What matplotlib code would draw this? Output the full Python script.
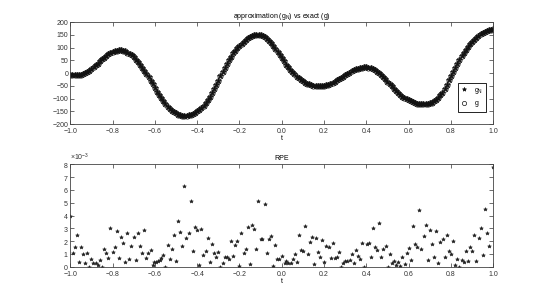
import matplotlib
matplotlib.use('Agg')
import matplotlib.pyplot as plt
import numpy as np
from matplotlib.ticker import ScalarFormatter, MultipleLocator

# exact / approximated function, sampled every 0.01 on [-1, 1]
t_g = np.linspace(-1, 1, 201)
g = [-7, -8, -9, -9, -8, -6, -4, 0, 4, 10,
     17, 24, 31, 38, 46, 54, 61, 68, 74, 79,
     83, 87, 89, 90, 90, 88, 86, 81, 76, 70,
     62, 53, 44, 33, 22, 10, -3, -16, -30, -44,
     -58, -72, -86, -98, -110, -121, -131, -140, -147, -153,
     -158, -162, -164, -166, -166, -166, -164, -162, -159, -155,
     -149, -143, -135, -127, -117, -106, -93, -79, -63, -46,
     -29, -12, 5, 21, 37, 52, 65, 78, 89, 99,
     108, 116, 124, 131, 137, 141, 145, 148, 149, 149,
     148, 145, 141, 135, 127, 118, 107, 96, 83, 71,
     58, 46, 34, 23, 13, 4, -5, -13, -20, -26,
     -32, -37, -41, -44, -47, -49, -50, -51, -51, -50,
     -49, -47, -45, -41, -37, -33, -28, -23, -18, -13,
     -8, -3, 2, 7, 11, 15, 18, 20, 22, 23,
     23, 22, 20, 16, 12, 6, 0, -7, -15, -24,
     -33, -43, -52, -61, -70, -78, -86, -92, -98, -102,
     -106, -110, -114, -117, -119, -121, -122, -122, -122, -120,
     -118, -115, -110, -104, -96, -87, -76, -62, -46, -28,
     -10, 6, 22, 37, 52, 66, 80, 92, 104, 114,
     124, 132, 140, 147, 153, 158, 163, 166, 169, 171,
     172]
g_N = g  # approximation lies on top of the exact values

# relative pointwise error (x 1e-3)
t_rpe = [-1.000, -0.989, -0.980, -0.968, -0.959, -0.950, -0.940, -0.929, -0.920, -0.910,
         -0.900, -0.891, -0.880, -0.871, -0.860, -0.850, -0.840, -0.831, -0.820, -0.811,
         -0.800, -0.790, -0.780, -0.771, -0.762, -0.751, -0.740, -0.730, -0.721, -0.712,
         -0.700, -0.691, -0.682, -0.670, -0.661, -0.650, -0.641, -0.631, -0.620, -0.611,
         -0.603, -0.595, -0.586, -0.578, -0.570, -0.560, -0.550, -0.540, -0.530, -0.521,
         -0.510, -0.500, -0.489, -0.480, -0.470, -0.461, -0.452, -0.439, -0.429, -0.420,
         -0.409, -0.400, -0.390, -0.380, -0.371, -0.360, -0.350, -0.340, -0.330, -0.321,
         -0.310, -0.300, -0.291, -0.280, -0.270, -0.261, -0.250, -0.240, -0.231, -0.221,
         -0.210, -0.200, -0.191, -0.180, -0.171, -0.162, -0.152, -0.141, -0.132, -0.122,
         -0.111, -0.100, -0.092, -0.081, -0.072, -0.062, -0.051, -0.041, -0.030, -0.021,
         -0.012, 0.003, 0.013, 0.022, 0.031, 0.043, 0.052, 0.061, 0.072, 0.082,
         0.091, 0.102, 0.112, 0.123, 0.132, 0.142, 0.153, 0.162, 0.172, 0.181,
         0.192, 0.202, 0.211, 0.222, 0.231, 0.241, 0.250, 0.261, 0.271, 0.280,
         0.291, 0.301, 0.310, 0.321, 0.331, 0.340, 0.350, 0.361, 0.370, 0.381,
         0.391, 0.402, 0.411, 0.422, 0.431, 0.441, 0.450, 0.461, 0.471, 0.480,
         0.491, 0.501, 0.510, 0.521, 0.531, 0.540, 0.551, 0.561, 0.570, 0.581,
         0.591, 0.600, 0.611, 0.620, 0.630, 0.641, 0.650, 0.660, 0.671, 0.680,
         0.690, 0.701, 0.710, 0.720, 0.731, 0.740, 0.750, 0.761, 0.770, 0.780,
         0.791, 0.800, 0.809, 0.820, 0.830, 0.839, 0.850, 0.860, 0.869, 0.880,
         0.890, 0.899, 0.910, 0.920, 0.931, 0.940, 0.950, 0.961, 0.970, 0.980,
         1.000]
rpe_milli = [3.96, 1.09, 1.56, 2.47, 0.39, 1.56, 1.02, 0.31, 1.09, 0.00,
             0.57, 0.31, 0.31, 0.10, 0.52, 0.00, 1.35, 1.09, 0.70, 3.05,
             1.17, 1.56, 2.81, 0.65, 2.29, 1.82, 0.36, 2.60, 0.57, 1.61,
             2.34, 0.52, 2.60, 1.64, 1.09, 2.86, 0.70, 1.04, 1.30, 0.10,
             0.36, 0.36, 0.42, 0.49, 0.65, 0.94, 0.00, 1.69, 0.60, 1.38,
             2.47, 0.42, 3.59, 2.68, 1.61, 6.28, 2.21, 2.60, 5.10, 1.20,
             3.13, 2.89, 0.10, 2.94, 0.94, 1.25, 2.21, 0.34, 1.74, 1.09,
             0.73, 1.17, 0.00, 0.31, 0.73, 0.73, 0.62, 2.03, 0.83, 1.72,
             2.00, 0.05, 2.66, 1.07, 1.41, 3.07, 0.21, 3.28, 2.92, 1.41,
             5.10, 2.16, 2.14, 4.92, 1.07, 2.19, 2.37, 0.03, 1.72, 0.60,
             0.57, 0.83, 0.26, 0.42, 0.26, 0.31, 0.62, 0.99, 0.34, 2.47,
             1.30, 1.20, 3.18, 0.99, 1.90, 2.34, 0.23, 2.24, 1.12, 0.76,
             2.08, 0.36, 1.61, 1.51, 0.68, 1.82, 0.70, 0.73, 1.12, 0.00,
             0.26, 0.42, 0.47, 0.52, 0.99, 0.26, 1.30, 0.83, 0.57, 1.82,
             0.00, 1.77, 1.88, 0.73, 3.02, 1.51, 1.30, 3.41, 0.78, 1.41,
             1.61, 0.00, 0.99, 0.26, 0.42, 0.16, 0.36, 0.05, 0.73, 0.21,
             1.09, 1.46, 0.52, 3.18, 1.74, 1.51, 4.40, 1.41, 2.37, 3.28,
             0.52, 2.86, 1.74, 0.76, 2.81, 0.26, 1.93, 2.19, 0.73, 2.50,
             1.20, 1.02, 2.00, 0.16, 0.62, 0.00, 0.49, 0.36, 1.20, 0.47,
             1.51, 1.22, 2.47, 0.44, 2.21, 3.00, 0.89, 4.53, 2.66, 1.64,
             7.80]

plt.rcParams['font.family'] = ['Liberation Sans', 'DejaVu Sans']
plt.rcParams['font.size'] = 5
plt.rcParams['mathtext.fontset'] = 'custom'
plt.rcParams['mathtext.rm'] = 'Liberation Sans'
plt.rcParams['mathtext.it'] = 'Liberation Sans'

fig = plt.figure(figsize=(5.45, 3.0), dpi=100)

def style(ax):
    ax.tick_params(direction='in', top=True, right=True, length=3, width=0.5,
                   labelsize=5, pad=1.5, colors='#333333')
    ax.tick_params(axis='x', pad=3)
    for s in ax.spines.values():
        s.set_linewidth(0.6)
        s.set_color('#444444')

ax1 = fig.add_axes([0.129, 0.586, 0.776, 0.340])
ax1.plot(t_g, g_N, linestyle='none', marker='*', color='#111111', markersize=3.8,
         markeredgewidth=0.5, label='$g_N$')
ax1.plot(t_g, g, linestyle='none', marker='o', markerfacecolor='none',
         markeredgecolor='#111111', markersize=3.8, markeredgewidth=0.5, label='$g$')
ax1.set_xlim(-1, 1)
ax1.set_ylim(-200, 200)
ax1.xaxis.set_major_locator(MultipleLocator(0.2))
ax1.yaxis.set_major_locator(MultipleLocator(50))
ax1.set_title('approximation ($g_N$) vs exact ($g$)', fontsize=5, pad=3)
ax1.set_xlabel('t', fontsize=5, labelpad=0)
style(ax1)
leg = ax1.legend(loc='lower right', fontsize=5, fancybox=False, framealpha=1,
                 edgecolor='k', borderpad=0.35, labelspacing=0.5,
                 handlelength=1.2, handletextpad=0.8, markerscale=0.8,
                 bbox_to_anchor=(0.99, 0.09))
leg.get_frame().set_linewidth(0.6)

ax2 = fig.add_axes([0.129, 0.111, 0.776, 0.341])
ax2.plot(t_rpe, np.array(rpe_milli) * 1e-3, linestyle='none', marker='*',
         color='#222222', markersize=2.8, markeredgewidth=0.4)
ax2.set_xlim(-1, 1)
ax2.set_ylim(0, 8e-3)
ax2.xaxis.set_major_locator(MultipleLocator(0.2))
ax2.yaxis.set_major_locator(MultipleLocator(1e-3))
fmt = ScalarFormatter(useMathText=True)
fmt.set_powerlimits((-2, 2))
ax2.yaxis.set_major_formatter(fmt)
ax2.yaxis.get_offset_text().set_fontsize(5)
ax2.set_title('RPE', fontsize=5, pad=3)
ax2.set_xlabel('t', fontsize=5, labelpad=0)
style(ax2)

plt.savefig('out.png', dpi=100)
plt.close()
